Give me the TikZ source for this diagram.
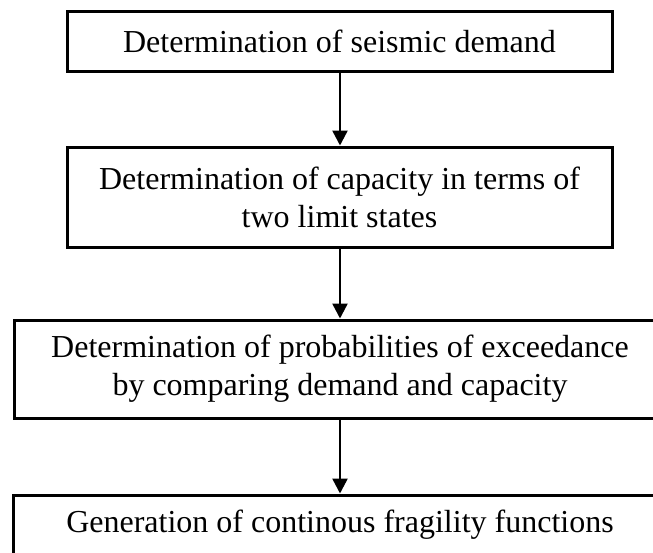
\documentclass[tikz,border=0pt]{standalone}
\usepackage{fontspec}
\setmainfont{Liberation Serif}
\usetikzlibrary{arrows.meta}
\begin{document}
\begin{tikzpicture}[x=1pt,y=-1pt,
  stepbox/.style={draw=black, line width=3pt, rectangle, align=center, inner sep=0pt,
    font=\fontsize{32}{38}\selectfont},
  flow/.style={line width=2.5pt, -{Triangle[width=15pt,length=15pt]}}]
\useasboundingbox (0,0) rectangle (653,552);
\begin{scope}
\clip (0,0) rectangle (653,552);
\node[stepbox, minimum width=545pt, minimum height=60pt] (b1) at (339.5,41) {Determination of seismic demand};
\node[stepbox, minimum width=545pt, minimum height=100pt] (b2) at (339.5,197) {Determination of capacity in terms of\\two limit states};
\node[stepbox, minimum width=652pt, minimum height=98pt] (b3) at (340,369) {Determination of probabilities of exceedance\\by comparing demand and capacity};
\node[stepbox, minimum width=654pt, minimum height=60pt] (b4) at (340,525) {Generation of continous fragility functions};
\end{scope}
\draw[flow] (b1.south -| 340,0) -- (b2.north -| 340,0);
\draw[flow] (b2.south -| 340,0) -- (b3.north -| 340,0);
\draw[flow] (b3.south -| 340,0) -- (b4.north -| 340,0);
\end{tikzpicture}
\end{document}
